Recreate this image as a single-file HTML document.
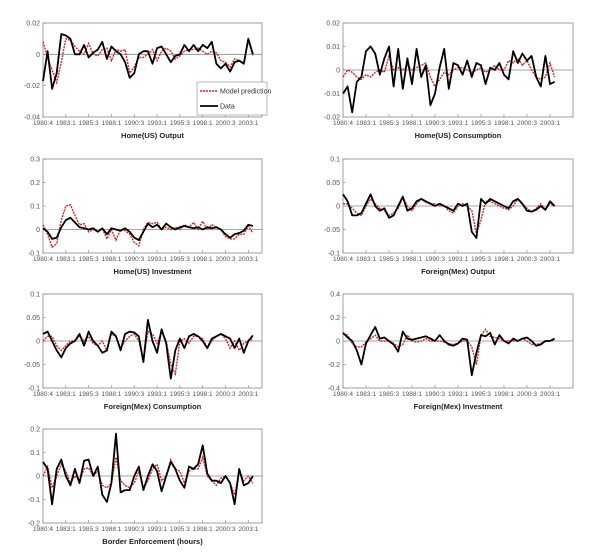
<!DOCTYPE html>
<html><head><meta charset="utf-8"><style>
html,body{margin:0;padding:0;background:#fff;}
svg{display:block;font-family:"Liberation Sans",sans-serif;}
</style></head><body>
<svg id="chart" width="600" height="558" viewBox="0 0 600 558" xmlns="http://www.w3.org/2000/svg"></svg>
<script>
const xTickLabels = ["1980:4","1983:1","1985:3","1988:1","1990:3","1993:1","1995:3","1998:1","2000:3","2003:1"];
const titles = ["Home(US) Output","Home(US) Consumption","Home(US) Investment","Foreign(Mex) Output","Foreign(Mex) Consumption","Foreign(Mex) Investment","Border Enforcement (hours)"];
const yTicks = [
 [-0.04,-0.02,0,0.02],
 [-0.02,-0.01,0,0.01,0.02],
 [-0.1,0,0.1,0.2,0.3],
 [-0.1,-0.05,0,0.05,0.1],
 [-0.1,-0.05,0,0.05,0.1],
 [-0.4,-0.2,0,0.2,0.4],
 [-0.2,-0.1,0,0.1,0.2]
];
const yTickText = [
 ["-0.04","-0.02","0","0.02"],
 ["-0.02","-0.01","0","0.01","0.02"],
 ["-0.1","0","0.1","0.2","0.3"],
 ["-0.1","-0.05","0","0.05","0.1"],
 ["-0.1","-0.05","0","0.05","0.1"],
 ["-0.4","-0.2","0","0.2","0.4"],
 ["-0.2","-0.1","0","0.1","0.2"]
];
const dataHomeOutput = [-0.017,0.002,-0.022,-0.012,0.013,0.012,0.01,0,0,0.006,-0.002,0.001,0.003,0.008,-0.003,0.005,0.002,0,-0.005,-0.015,-0.012,0,0.002,0.002,-0.006,0.004,0.005,0,-0.005,-0.001,0,0.006,0.002,0.006,0.002,0.006,0.004,0.008,-0.006,-0.009,-0.006,-0.011,-0.005,-0.004,-0.006,0.01,0];
const modelHomeOutput = [0.008,-0.002,-0.01,-0.018,-0.005,0.01,0.009,0.005,0.002,0,0.007,0,-0.001,0.003,0.004,-0.004,0.003,0.002,0.003,-0.012,-0.008,-0.002,-0.002,0,0.003,-0.004,0.002,0.004,0.002,-0.003,-0.001,0.002,0.003,0.003,0.004,0.002,0,0.002,0.001,-0.004,-0.005,-0.008,-0.003,-0.004,-0.006,0.009,-0.001];
const dataHomeCons = [-0.01,-0.007,-0.018,-0.005,-0.003,0.008,0.01,0.007,-0.002,0.005,0.01,-0.007,0.009,-0.008,0.005,-0.006,0.009,-0.003,0.002,-0.015,-0.01,0.001,0.009,-0.008,0.003,0.002,-0.002,0.004,-0.003,0.003,0.002,-0.006,0.001,0,0.003,-0.002,-0.004,0.008,0.003,0.007,0.004,0.006,-0.003,-0.007,0.006,-0.006,-0.005];
const modelHomeCons = [-0.003,0,-0.001,-0.003,-0.004,-0.002,-0.003,-0.001,0,-0.001,0.006,0,0.001,0,0.002,0,0.001,0.002,0.003,-0.003,-0.007,-0.004,-0.001,-0.002,0,0.001,0.001,0,-0.001,0,0.001,-0.001,0,0.002,0,0,0.004,0.003,0.005,0.002,0.004,0,-0.003,-0.004,-0.003,0.003,-0.003];
const dataHomeInv = [0.005,-0.01,-0.04,-0.035,0.01,0.04,0.05,0.03,0.01,0.005,0,0.005,-0.01,0.005,-0.02,0.005,0,-0.005,0.005,-0.01,-0.035,-0.045,-0.01,0.025,0.01,0.02,0,0.025,0.01,0,0.01,0.015,0.01,0.005,0.01,0,0.01,0.005,0.01,0,-0.02,-0.035,-0.02,-0.015,-0.005,0.02,0.015];
const modelHomeInv = [0.02,-0.02,-0.075,-0.06,0.04,0.1,0.105,0.06,0.02,0.025,-0.01,0,-0.01,0.005,-0.04,0,-0.045,0,-0.005,-0.02,-0.055,-0.07,0,0.03,0.025,0.03,0,0.01,0,0.01,0,0.02,0.01,0.03,0,0.035,0,0.02,0.01,0,-0.03,-0.04,-0.04,-0.02,-0.02,0.015,-0.015];
const dataMexOutput = [0.025,0.01,-0.02,-0.02,-0.015,0.005,0.025,0,-0.01,-0.005,-0.025,-0.02,0,0.02,-0.01,-0.005,0.01,0.015,0.01,0.005,0,0.005,0,-0.005,-0.01,0.005,0,0.005,-0.055,-0.068,0.015,0.005,0.015,0.01,0.005,0,-0.005,0.01,0.015,0.005,-0.01,-0.012,-0.008,0,-0.008,0.01,0];
const modelMexOutput = [0.005,0.005,-0.005,-0.015,-0.02,0,0.015,0.005,-0.005,-0.01,-0.02,-0.015,-0.005,0.018,0,-0.01,0.005,0.015,0.008,0.005,0.005,0,0,-0.01,-0.015,0,0.005,0,-0.01,-0.058,-0.03,0.01,0.01,0.005,0,-0.005,-0.008,0,0.015,0.005,-0.005,-0.012,-0.005,0.005,-0.008,0.005,0];
const dataMexCons = [0.015,0.02,0,-0.02,-0.035,-0.015,-0.005,0,0.015,-0.01,0.02,0,-0.01,-0.025,-0.02,0.02,0.01,-0.02,0.015,0.02,0.018,0.01,-0.045,0.045,0,-0.025,0.025,-0.005,-0.08,-0.02,0.005,-0.015,0.01,0.015,0.01,0,-0.015,0.005,0.01,0.015,0.01,0.005,-0.015,0.005,-0.025,0,0.012];
const modelMexCons = [0,0.01,0.01,-0.01,-0.02,-0.01,0,0,0.01,0,0.01,-0.005,-0.01,0,-0.02,0.015,0.01,-0.015,0,0.01,0.015,0,-0.04,0.02,0.015,-0.005,0.02,0,-0.05,-0.07,0,0.005,-0.005,0.01,0.01,0.005,-0.015,0,0.01,0.015,0.005,-0.015,0,-0.02,-0.005,0,0.005];
const dataMexInv = [0.07,0.03,0,-0.08,-0.2,-0.02,0.05,0.12,0.02,0.03,0,-0.03,-0.09,0.08,0.02,0.01,0.02,0.03,0.04,0.02,0,0.05,0,-0.03,-0.04,-0.02,0.02,0.01,-0.29,-0.1,0.05,0.04,0.07,-0.03,0.05,0,-0.02,0.02,0,0.02,0.03,0,-0.04,-0.03,0,0,0.02];
const modelMexInv = [0.06,0.05,-0.02,-0.05,-0.05,-0.01,0.02,0.05,0,0,0,-0.02,-0.05,-0.03,0.05,0,-0.01,0,0.02,0,0,0,-0.01,-0.02,-0.03,-0.02,0,0,-0.05,-0.2,0.05,0.1,0.04,0.03,0.02,0,0,0,0,0.02,0,-0.03,-0.03,-0.02,0,0,0.01];
const dataBorder = [0.06,0.03,-0.12,0.03,0.07,0,-0.04,0.03,-0.03,0.065,0.07,0,0.04,-0.08,-0.11,-0.03,0.18,-0.07,-0.06,-0.06,0,0.04,-0.06,0,0.05,0.02,-0.065,0,0.06,0.03,-0.02,-0.05,0.04,0.03,0.05,0.13,0.01,-0.02,-0.02,-0.03,0,-0.03,-0.12,0.03,-0.04,-0.03,0];
const modelBorder = [0,0.04,-0.05,0,0.05,0.02,-0.03,0,-0.02,0.03,0.035,0,0.02,-0.04,-0.05,-0.03,0.08,-0.02,-0.04,-0.05,-0.03,0.02,-0.05,-0.02,0.03,0.05,-0.02,0,0.07,0.03,0.02,-0.03,0.02,0.03,0.03,0.08,0,-0.02,-0.04,-0.01,0,-0.03,-0.08,0.02,-0.02,0,-0.03];

const dataSeries=[dataHomeOutput,dataHomeCons,dataHomeInv,dataMexOutput,dataMexCons,dataMexInv,dataBorder];
const modelSeries=[modelHomeOutput,modelHomeCons,modelHomeInv,modelMexOutput,modelMexCons,modelMexInv,modelBorder];
const names=["home-output","home-consumption","home-investment","mex-output","mex-consumption","mex-investment","border-enforcement"];

const NS="http://www.w3.org/2000/svg";
const svg=document.getElementById('chart');
function mk(tag,attrs,parent){const e=document.createElementNS(NS,tag);for(const k in attrs)e.setAttribute(k,attrs[k]);(parent||svg).appendChild(e);return e;}

const colX=[43,343], colW=[219,230], colQ=[96,100];
const rowY=[23,159,294,429], H=94;

for(let p=0;p<7;p++){
  const col=p%2,row=Math.floor(p/2);
  const x0=colX[col],w=colW[col],y0=rowY[row],qmax=colQ[col];
  const yt=yTicks[p],ymin=yt[0],ymax=yt[yt.length-1];
  const xs=q=>x0+q*w/qmax;
  const ys=v=>y0+H-(v-ymin)/(ymax-ymin)*H;
  const g=mk('g',{});
  
  
  const box=mk('rect',{x:x0,y:y0,width:w,height:H,fill:'#fff',stroke:'#888','stroke-width':0.8},g);
  
  
  const zl=mk('line',{x1:x0,x2:x0+w,y1:ys(0),y2:ys(0),stroke:'#888','stroke-width':0.8},g);
  
  
  yt.forEach((v,i)=>{
    mk('line',{x1:x0,x2:x0+3,y1:ys(v),y2:ys(v),stroke:'#888','stroke-width':0.6},g);
    const t=mk('text',{x:x0-3,y:ys(v)+2.5,'text-anchor':'end','font-size':7,fill:'#555'},g);
    t.textContent=yTickText[p][i];
    
    
  });
  xTickLabels.forEach((l,i)=>{
    const q=i*10;
    mk('line',{x1:xs(q),x2:xs(q),y1:y0+H,y2:y0+H-3,stroke:'#888','stroke-width':0.6},g);
    const t=mk('text',{x:xs(q),y:y0+H+8,'text-anchor':'middle','font-size':6.5,fill:'#555'},g);
    t.textContent=l;
    
    
  });
  const pts=a=>a.map((v,i)=>xs(i*2).toFixed(1)+','+ys(v).toFixed(1)).join(' ');
  const m=mk('polyline',{points:pts(modelSeries[p]),fill:'none',stroke:'#e02020','stroke-width':1.4,'stroke-dasharray':'2,1'},g);
  
  
  const d=mk('polyline',{points:pts(dataSeries[p]),fill:'none',stroke:'#000','stroke-width':1.8,'stroke-linejoin':'round'},g);
  
  
  const tt=mk('text',{x:x0+w/2,y:y0+H+21,'text-anchor':'middle','font-size':7.5,'font-weight':'bold',fill:'#222'},g);
  tt.textContent=titles[p];
  
  
}
// legend
const lg=mk('g',{});


mk('rect',{x:197,y:82,width:70,height:33,fill:'#fff',stroke:'#888','stroke-width':0.6},lg);
mk('line',{x1:200,x2:218,y1:91,y2:91,stroke:'#e02020','stroke-width':1.4,'stroke-dasharray':'2,1'},lg);
const l1=mk('text',{x:220,y:93.5,'font-size':7,fill:'#333'},lg);l1.textContent='Model prediction';


mk('line',{x1:200,x2:218,y1:106,y2:106,stroke:'#000','stroke-width':1.8},lg);
const l2=mk('text',{x:220,y:108.5,'font-size':7,fill:'#333'},lg);l2.textContent='Data';


</script>
</body></html>
